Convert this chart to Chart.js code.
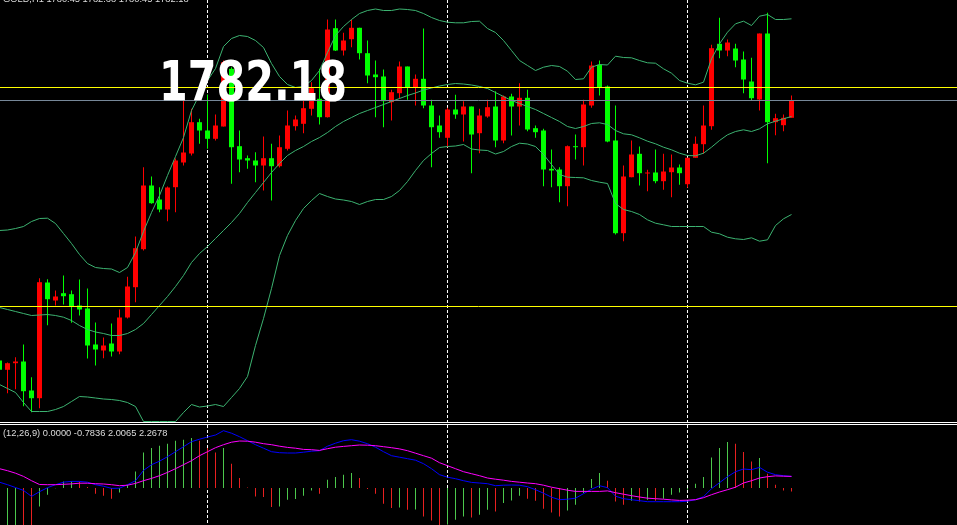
<!DOCTYPE html>
<html>
<head>
<meta charset="utf-8">
<script src="https://cdn.jsdelivr.net/npm/chart.js@4.4.0/dist/chart.umd.min.js"></script>
<style>
    body { margin: 0; background: #000; width: 957px; height: 525px; overflow: hidden; position: relative; }
    canvas { position: absolute; left: 0; display: block; }
    #main { top: 0; }
    #macd { top: 425px; }
    .sep { position: absolute; left: 0; width: 957px; height: 1px; background: #fff; }
    .small { position: absolute; left: 3px; font-family: "Liberation Sans", sans-serif; font-size: 9.3px; line-height: 10px; color: #dcdcdc; white-space: nowrap; }
    #title { top: -5.6px; }
    #macd-label { top: 428.2px; }
    #price { position: absolute; left: 159px; top: 53.6px; font-family: "DejaVu Sans Condensed", "DejaVu Sans", sans-serif; font-stretch: condensed; font-weight: bold; font-size: 55px; line-height: 55px; color: #fff; white-space: nowrap; transform-origin: 0 0; }
</style>
</head>
<body>
<canvas id="main" width="957" height="422"></canvas>
<div class="sep" style="top:422px"></div>
<div class="sep" style="top:424px"></div>
<canvas id="macd" width="957" height="100"></canvas>
<div id="title" class="small"></div>
<div id="price"></div>
<div id="macd-label" class="small"></div>

<script>
// GOLD H1 - 100 candles, bands 20/2, macd 12/26/9
const symbol = 'GOLD,H1';

const open = [1756.18,1755.25,1755.91,1756.08,1753.18,1752.41,1763.98,1762.18,1762.91,1762.81,
    1761.68,1761.38,1757.78,1757.18,1757.88,1757.08,1760.48,1763.51,1767.31,1773.68,
    1772.28,1771.28,1773.51,1775.98,1776.88,1780.01,1779.18,1778.35,1779.58,1785.35,
    1777.61,1776.41,1776.18,1775.68,1776.41,1775.61,1777.35,1779.61,1779.85,1781.35,
    1782.35,1780.51,1789.41,1787.18,1788.31,1789.45,1786.91,1784.78,1784.58,1782.01,
    1782.91,1785.58,1783.45,1784.35,1781.68,1779.68,1778.45,1781.28,1780.78,1781.58,
    1778.91,1780.58,1781.58,1778.18,1782.58,1781.58,1782.45,1779.41,1779.18,1775.35,
    1775.28,1773.61,1777.58,1777.51,1781.68,1785.75,1783.58,1778.18,1768.91,1774.51,
    1776.85,1774.88,1774.98,1774.11,1775.01,1775.48,1773.81,1776.45,1777.81,1779.61,
    1787.85,1787.18,1787.38,1786.28,1784.08,1782.28,1788.88,1780.01,1779.71,1780.45];
const high = [1756.38,1755.98,1756.51,1757.78,1754.51,1764.41,1764.31,1763.18,1764.68,1763.18,
    1764.28,1763.38,1759.98,1758.48,1759.88,1761.28,1764.55,1768.58,1775.51,1774.58,
    1773.51,1773.58,1776.38,1782.85,1781.35,1780.35,1782.78,1780.78,1786.18,1785.51,
    1779.18,1776.68,1777.01,1778.58,1777.85,1778.68,1781.18,1780.68,1782.18,1784.01,
    1785.35,1790.28,1790.28,1788.95,1790.25,1789.45,1788.18,1786.18,1785.28,1783.25,
    1786.08,1785.58,1784.78,1789.38,1782.25,1780.68,1781.45,1782.75,1782.11,1781.58,
    1781.35,1782.25,1783.11,1782.68,1782.85,1783.91,1783.25,1779.68,1779.35,1777.28,
    1775.51,1777.68,1778.78,1782.25,1786.08,1786.18,1783.68,1781.68,1775.68,1778.18,
    1777.58,1775.25,1777.28,1776.85,1776.78,1775.78,1776.45,1778.58,1781.68,1787.75,
    1790.45,1788.28,1787.85,1787.08,1786.45,1788.88,1790.95,1780.85,1780.78,1782.68];
const low = [1755.18,1752.91,1753.31,1751.61,1751.01,1751.41,1759.71,1761.68,1761.78,1759.95,
    1760.68,1756.38,1755.68,1756.41,1756.58,1756.81,1760.38,1762.01,1767.18,1771.85,
    1771.01,1770.11,1771.01,1775.68,1776.68,1777.85,1777.35,1778.18,1779.58,1773.85,
    1775.01,1775.35,1774.01,1773.18,1772.18,1775.48,1777.18,1779.18,1778.91,1780.68,
    1779.78,1780.48,1787.13,1786.68,1787.51,1786.28,1783.91,1780.51,1779.51,1780.18,
    1782.35,1782.25,1781.68,1781.41,1775.51,1778.45,1777.51,1780.35,1778.08,1774.91,
    1776.91,1780.45,1777.51,1777.91,1778.68,1779.68,1779.11,1778.45,1773.61,1773.51,
    1772.01,1771.61,1776.28,1775.68,1781.45,1782.68,1778.01,1768.78,1768.11,1774.51,
    1773.68,1773.11,1773.91,1773.25,1772.51,1773.75,1773.45,1776.45,1776.85,1779.25,
    1786.41,1786.61,1785.51,1782.91,1782.18,1781.18,1775.91,1778.71,1779.11,1780.45];
const close = [1755.25,1755.91,1756.08,1753.11,1752.41,1764.01,1762.31,1762.58,1762.61,1761.58,
    1761.28,1757.68,1757.28,1757.68,1757.08,1760.48,1763.58,1767.41,1773.68,1771.91,
    1771.28,1773.48,1776.18,1776.98,1780.01,1779.18,1778.35,1779.68,1786.01,1777.51,
    1776.28,1776.18,1775.68,1776.41,1775.61,1777.51,1779.68,1780.28,1781.41,1783.41,
    1780.51,1789.28,1787.18,1788.18,1789.45,1786.91,1784.68,1784.51,1782.11,1783.01,
    1785.58,1783.45,1784.35,1781.68,1779.51,1779.01,1781.28,1780.78,1781.58,1778.78,
    1780.68,1781.51,1778.18,1782.58,1781.58,1782.45,1779.28,1779.01,1775.28,1775.18,
    1773.61,1777.61,1777.51,1781.78,1785.68,1783.45,1778.08,1768.91,1774.58,1776.78,
    1774.91,1774.98,1774.11,1775.08,1775.48,1774.91,1776.45,1777.85,1779.68,1787.41,
    1787.18,1787.98,1786.18,1784.28,1782.41,1788.88,1780.01,1780.41,1780.45,1782.18];

// bollinger bands
const bbUpper = [1769.18,1769.23,1769.38,1769.58,1770.08,1770.38,1770.41,1769.88,1768.88,1767.88,
    1766.78,1765.88,1765.48,1765.38,1765.33,1764.98,1765.48,1766.98,1769.08,1770.98,
    1772.68,1774.68,1776.58,1778.48,1781.18,1782.78,1784.18,1785.38,1787.58,1788.38,
    1788.68,1788.58,1788.18,1787.48,1785.88,1784.58,1783.78,1783.48,1783.58,1784.18,
    1785.18,1786.98,1788.68,1789.58,1790.28,1790.88,1791.18,1791.33,1791.18,1791.18,
    1791.33,1791.28,1791.18,1790.88,1790.48,1790.18,1790.01,1789.95,1789.95,1790.08,
    1790.11,1789.38,1788.98,1788.18,1787.18,1786.18,1785.68,1785.18,1785.51,1785.68,
    1785.58,1785.11,1784.28,1784.35,1785.51,1785.78,1785.73,1786.61,1786.48,1786.45,
    1786.18,1785.95,1785.91,1785.35,1784.91,1784.18,1783.91,1783.75,1784.01,1786.35,
    1787.85,1789.01,1789.85,1790.11,1789.68,1790.61,1790.78,1790.28,1790.28,1790.35];
const bbMiddle = [1761.48,1761.28,1761.08,1760.88,1760.68,1760.73,1760.78,1760.68,1760.51,1760.18,
    1759.68,1759.28,1759.03,1758.88,1758.68,1758.68,1758.88,1759.28,1759.88,1760.78,
    1761.68,1762.58,1763.58,1764.68,1765.98,1766.88,1767.58,1768.38,1769.18,1769.98,
    1770.88,1771.98,1772.98,1773.98,1774.98,1775.88,1776.68,1777.18,1777.58,1778.08,
    1778.48,1778.98,1779.58,1780.08,1780.48,1780.88,1781.18,1781.48,1781.78,1782.08,
    1782.38,1782.68,1782.93,1783.23,1783.43,1783.63,1783.78,1783.88,1783.83,1783.73,
    1783.58,1783.38,1782.98,1782.58,1782.18,1781.88,1781.58,1781.28,1780.88,1780.48,
    1780.08,1779.58,1779.38,1779.58,1779.88,1779.95,1779.78,1779.18,1778.85,1778.75,
    1778.45,1778.11,1777.85,1777.51,1777.25,1776.91,1776.68,1776.65,1776.91,1777.51,
    1778.18,1778.75,1779.08,1779.25,1779.08,1779.35,1779.85,1780.11,1780.35,1780.58];
const bbLower = [1753.78,1753.38,1752.98,1751.98,1751.08,1751.08,1751.08,1751.28,1751.58,1752.08,
    1752.58,1752.53,1752.43,1752.33,1752.28,1752.18,1751.98,1751.58,1750.08,1750.08,
    1750.08,1750.08,1750.08,1750.98,1751.78,1751.53,1751.63,1751.78,1751.58,1752.48,
    1753.38,1754.58,1757.68,1760.38,1763.38,1766.68,1768.68,1770.18,1771.38,1772.18,
    1772.88,1772.58,1772.33,1772.23,1772.08,1771.78,1772.08,1772.28,1772.28,1772.58,
    1773.18,1774.08,1775.18,1776.18,1776.88,1777.48,1777.58,1777.63,1777.78,1777.33,
    1777.23,1777.18,1776.83,1777.08,1777.58,1777.91,1777.83,1777.58,1776.78,1775.78,
    1774.78,1774.51,1774.48,1774.45,1774.18,1774.01,1773.88,1771.88,1771.28,1771.08,
    1770.78,1770.25,1769.91,1769.75,1769.58,1769.58,1769.58,1769.58,1769.58,1769.01,
    1768.85,1768.51,1768.35,1768.28,1768.45,1768.11,1768.25,1769.68,1770.35,1770.78];

// macd window
const macdHist = [-10.6,-9.8,-9.2,-10.2,-11.0,-3.68,-1.34,-0.05,1.32,1.36,
    1.3,0.2,-1.14,-1.54,-2.14,-0.88,0.66,3.32,7.12,8.0,
    8.46,8.86,9.46,9.66,10.0,9.46,8.0,7.12,8.0,4.86,
    2.0,0.1,-1.68,-1.8,-3.8,-3.7,-2.34,-2.2,-1.54,-0.48,
    -1.14,1.66,2.2,2.66,3.0,2.0,-0.2,-1.14,-3.14,-4.0,
    -3.88,-4.34,-4.3,-5.68,-6.48,-7.5,-7.3,-6.34,-5.68,-5.88,
    -5.34,-4.34,-4.68,-3.0,-2.48,-1.54,-2.14,-2.54,-4.14,-4.88,
    -5.68,-4.48,-3.34,-1.0,1.8,3.0,1.46,-2.68,-3.34,-2.54,
    -2.68,-2.34,-2.54,-2.14,-1.34,-0.88,-0.3,0.86,2.2,6.12,
    8.0,9.2,8.86,7.2,5.32,6.0,2.86,0.66,-0.48,-0.68];
const macdMain = [1.16,0.66,0.1,-0.48,-1.68,-0.74,0.06,0.66,1.16,1.32,
    1.32,1.16,0.66,0.36,-0.08,-0.04,0.66,1.46,3.52,4.66,
    5.36,6.26,7.26,8.26,9.26,9.76,10.2,10.6,11.46,10.96,
    10.26,9.46,8.66,7.96,7.26,7.06,7.0,7.0,7.16,7.36,
    7.46,8.36,8.96,9.46,9.66,9.36,8.86,8.16,7.26,6.46,
    6.16,5.86,5.56,4.86,3.86,2.66,2.16,1.86,1.46,1.12,
    1.0,0.86,0.46,0.56,0.6,0.56,0.26,-0.34,-1.04,-1.84,
    -2.34,-2.24,-2.04,-1.14,-0.24,0.46,0.06,-1.64,-2.14,-2.34,
    -2.54,-2.74,-2.74,-2.74,-2.74,-2.74,-2.64,-2.34,-1.74,-0.14,
    1.06,2.26,3.26,3.8,3.66,4.12,3.16,2.66,2.46,2.32];
const macdSignal = [3.86,3.46,2.96,2.32,1.46,0.7,0.66,0.66,0.74,0.82,
    0.96,0.96,0.86,0.8,0.66,0.46,0.56,0.92,1.46,1.92,
    2.46,3.12,3.86,4.66,5.46,6.46,7.26,8.06,8.66,9.16,
    9.4,9.36,9.16,8.86,8.66,8.36,8.12,7.96,7.72,7.66,
    7.52,7.86,8.16,8.32,8.46,8.6,8.56,8.46,8.26,8.06,
    7.82,7.46,6.96,6.46,5.96,5.06,4.46,3.86,3.26,2.86,
    2.46,2.0,1.76,1.56,1.32,1.16,1.0,0.86,0.56,0.16,
    -0.14,-0.44,-0.68,-0.68,-0.68,-0.68,-0.58,-0.94,-1.24,-1.54,
    -1.8,-2.04,-2.14,-2.24,-2.38,-2.48,-2.44,-2.34,-1.94,-1.34,
    -0.8,-0.34,0.16,1.0,1.46,2.0,2.26,2.42,2.36,2.32];
const macdLabel = '(12,26,9) 0.0000 -0.7836 2.0065 2.2678';

// day separators (bar index) and horizontal lines
const separators = [26, 56, 86];
const levels = [1783.48, 1761.58];

const RED = '#ff0000';
const LIME = '#00ff00';
const BAND = '#3cb371';

// 8px per bar, chart shifted to the right
const X_MIN = 0.0625;
const X_MAX = X_MIN + 957 / 8;

const separatorPlugin = {
    id: 'separators',
    beforeDatasetsDraw(chart) {
        const { ctx, chartArea, scales } = chart;
        ctx.save();
        ctx.strokeStyle = '#ffffff';
        ctx.lineWidth = 1;
        ctx.setLineDash([3, 2]);
        separators.forEach(i => {
            const x = Math.floor(scales.x.getPixelForValue(i)) + 0.5;
            ctx.beginPath();
            ctx.moveTo(x, chartArea.top);
            ctx.lineTo(x, chartArea.bottom);
            ctx.stroke();
        });
        ctx.restore();
    }
};

const levelPlugin = {
    id: 'levels',
    afterDatasetsDraw(chart) {
        const { ctx, chartArea, scales } = chart;
        const hline = (v, color) => {
            const y = Math.floor(scales.y.getPixelForValue(v)) + 0.5;
            ctx.strokeStyle = color;
            ctx.beginPath();
            ctx.moveTo(chartArea.left, y);
            ctx.lineTo(chartArea.right, y);
            ctx.stroke();
        };
        ctx.save();
        ctx.lineWidth = 1;
        hline(close[close.length - 1], '#778899'); // bid
        levels.forEach(v => hline(v, '#ffff00'));
        ctx.restore();
    }
};

function baseOptions(yMin, yMax) {
    return {
        responsive: false,
        animation: false,
        events: [],
        layout: { padding: 0 },
        plugins: { legend: { display: false }, tooltip: { enabled: false } },
        scales: {
            x: { type: 'linear', min: X_MIN, max: X_MAX, offset: false, display: false },
            y: { min: yMin, max: yMax, display: false }
        }
    };
}

function lineSet(values, color) {
    return {
        type: 'line',
        data: values.map((v, i) => ({ x: i, y: v })),
        borderColor: color,
        borderWidth: 1,
        pointRadius: 0,
        tension: 0,
        order: 1
    };
}

function renderMain() {
    const colors = close.map((c, i) => c >= open[i] ? RED : LIME);
    new Chart(document.getElementById('main'), {
        type: 'bar',
        data: {
            datasets: [
                {
                    data: low.map((l, i) => ({ x: i, y: [l, high[i]] })),
                    backgroundColor: colors,
                    barThickness: 1,
                    grouped: false,
                    inflateAmount: 0,
                    borderWidth: 0,
                    order: 3
                },
                {
                    data: open.map((o, i) => ({ x: i, y: [o, close[i]] })),
                    backgroundColor: colors,
                    barThickness: 5,
                    grouped: false,
                    inflateAmount: 0,
                    borderWidth: 0,
                    minBarLength: 1,
                    order: 2
                },
                lineSet(bbUpper, BAND),
                lineSet(bbMiddle, BAND),
                lineSet(bbLower, BAND)
            ]
        },
        options: baseOptions(1750.03, 1792.23),
        plugins: [separatorPlugin, levelPlugin]
    });
}

function renderMacd() {
    // green while the histogram rises, red while it falls
    const histColors = macdHist.map((v, i) => (i === 0 || v > macdHist[i - 1]) ? '#4cc84c' : '#e82020');
    new Chart(document.getElementById('macd'), {
        type: 'bar',
        data: {
            datasets: [
                {
                    data: macdHist.map((v, i) => ({ x: i, y: v })),
                    backgroundColor: histColors,
                    barThickness: 1,
                    grouped: false,
                    inflateAmount: 0,
                    borderWidth: 0,
                    order: 3
                },
                lineSet(macdSignal, '#ff00ff'),
                lineSet(macdMain, '#0000ff')
            ]
        },
        options: baseOptions(-7.4, 12.6),
        plugins: [separatorPlugin]
    });
}

function renderLabels() {
    const last = close.length - 1;
    document.getElementById('title').textContent =
        `${symbol} ${open[last].toFixed(2)} ${high[last].toFixed(2)} ${low[last].toFixed(2)} ${close[last].toFixed(2)}`;
    document.getElementById('macd-label').textContent = macdLabel;

    const price = document.getElementById('price');
    price.textContent = close[last].toFixed(2);
    const w = price.getBoundingClientRect().width;
    price.style.transform = `scaleX(${188 / w})`;
}

renderMain();
renderMacd();
renderLabels();
</script>
</body>
</html>
